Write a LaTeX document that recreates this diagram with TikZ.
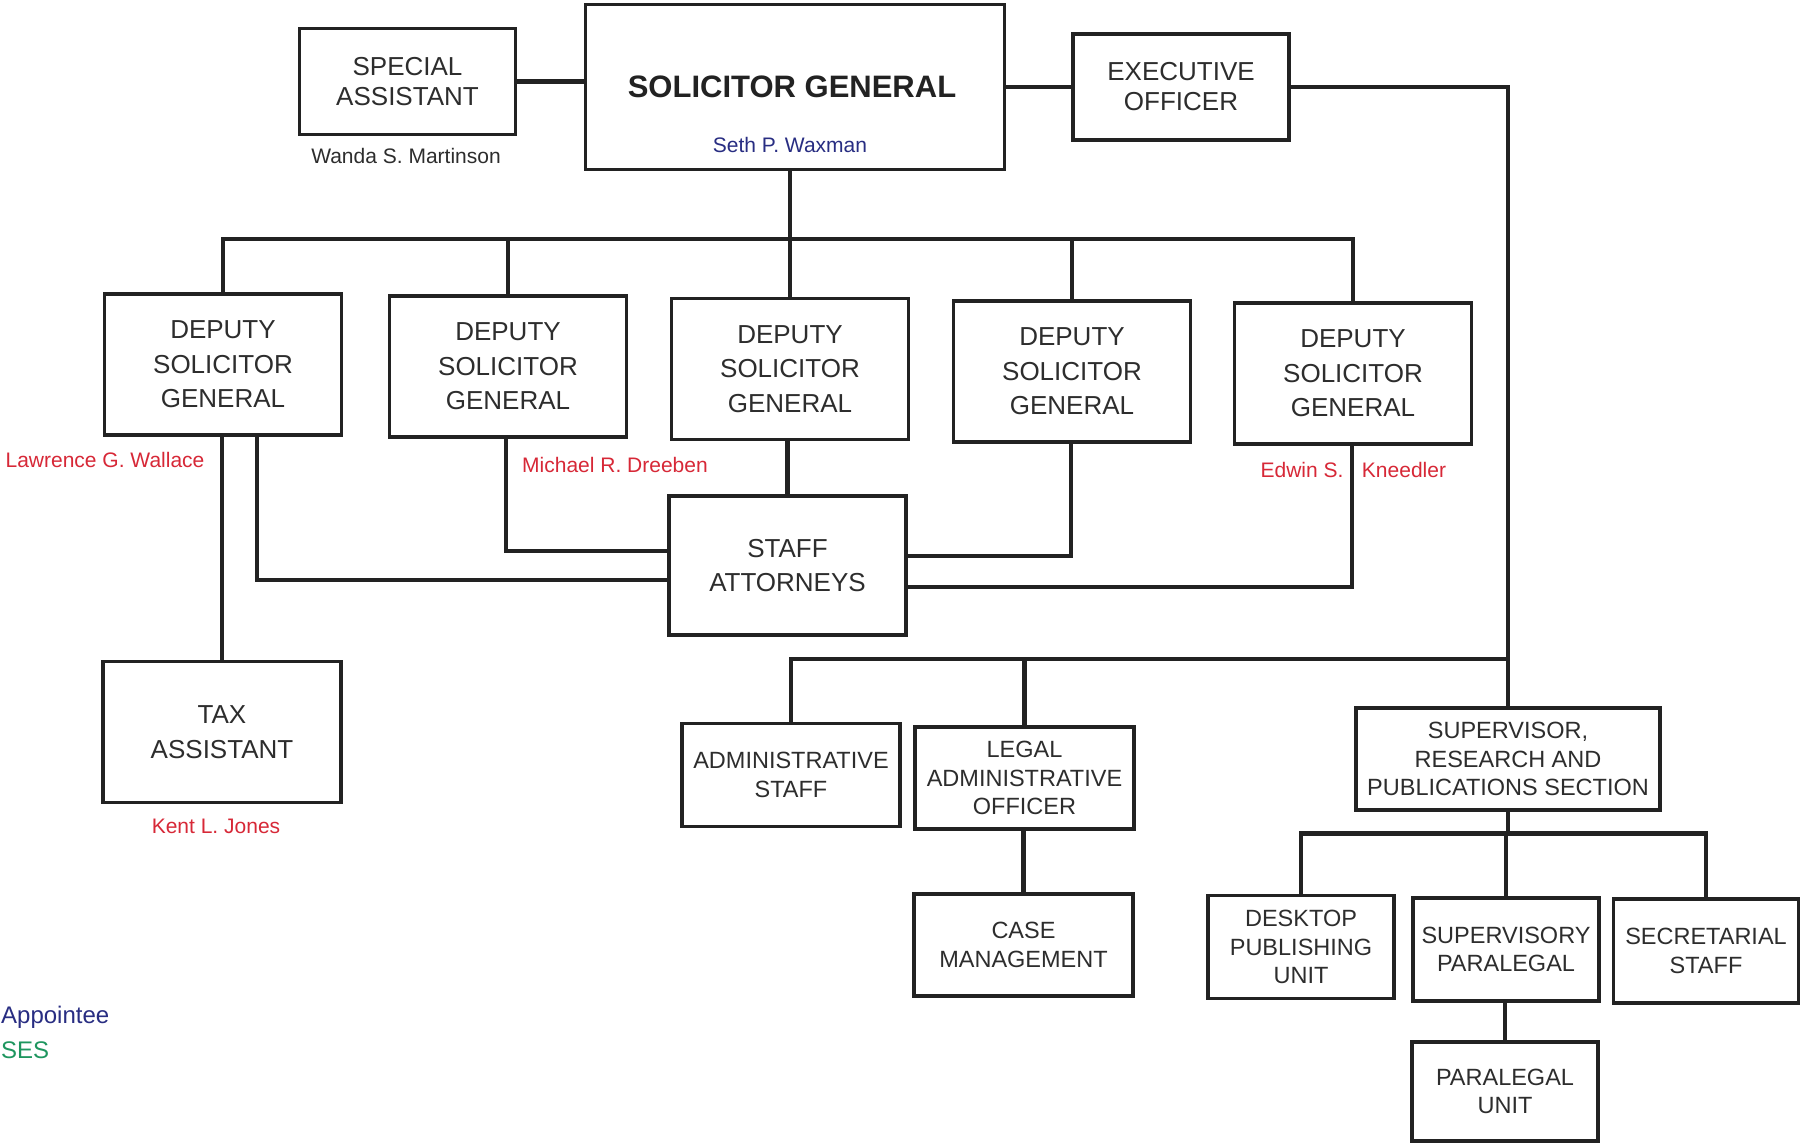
\documentclass[tikz,border=0pt]{standalone}
\usepackage{fontspec}
\setmainfont{Liberation Sans}
\definecolor{ink}{RGB}{34,34,34}
\definecolor{txt}{RGB}{45,45,45}
\definecolor{careerred}{RGB}{215,40,55}
\definecolor{appblue}{RGB}{40,45,130}
\definecolor{sesgreen}{RGB}{30,150,95}
\begin{document}
\begin{tikzpicture}[x=1pt,y=-1pt]
\tikzset{
  unit/.style={draw=ink, line width=3.8pt, fill=white, inner sep=0pt, align=center, text=txt},
  lg/.style={unit, font=\fontsize{26}{34.5}\selectfont},
  md/.style={unit, font=\fontsize{26}{30}\selectfont},
  sm/.style={unit, font=\fontsize{23.5}{28.5}\selectfont},
  dep/.style={lg, minimum width=237pt, minimum height=141pt},
  link/.style={draw=ink, line width=4.5pt},
  person/.style={inner sep=0pt, font=\fontsize{21}{24}\selectfont},
  legend/.style={inner sep=0pt, anchor=west, font=\fontsize{24}{28}\selectfont},
}
\clip (0,0) rectangle (1800,1144);
\fill[white] (0,0) rectangle (1800,1144);

% top row
\node[md, minimum width=216pt, minimum height=106pt] (spa) at (407.5,81.5) {SPECIAL\\ASSISTANT};
\node[unit, minimum width=419pt, minimum height=165pt] (sg) at (795,87) {};
\node[inner sep=0pt, text=ink, font=\bfseries\fontsize{31}{36}\selectfont] (sgt) at (792,87) {SOLICITOR GENERAL};
\node[person, text=appblue] (sgn) at (790,145) {Seth P. Waxman};
\node[md, minimum width=216pt, minimum height=106pt] (eo) at (1181,87) {EXECUTIVE\\OFFICER};
\node[person, text=txt] (span) at (406,156) {Wanda S. Martinson};

% deputies
\node[dep] (d1) at (223,364.5) {DEPUTY\\SOLICITOR\\GENERAL};
\node[dep] (d2) at (508,366.5) {DEPUTY\\SOLICITOR\\GENERAL};
\node[dep] (d3) at (790,369) {DEPUTY\\SOLICITOR\\GENERAL};
\node[dep] (d4) at (1072,371.5) {DEPUTY\\SOLICITOR\\GENERAL};
\node[dep] (d5) at (1353,373.5) {DEPUTY\\SOLICITOR\\GENERAL};

\node[person, text=careerred] (n1) at (105,460) {Lawrence G. Wallace};
\node[person, text=careerred] (n2) at (615,465) {Michael R. Dreeben};
\node[person, text=careerred] (n5a) at (1302,470) {Edwin S.};
\node[person, text=careerred] (n5b) at (1404,470) {Kneedler};

\node[lg, minimum width=237pt, minimum height=139pt] (att) at (787.5,565.5) {STAFF\\ATTORNEYS};
\node[lg, minimum width=238pt, minimum height=141pt] (tax) at (222,732) {TAX\\ASSISTANT};
\node[person, text=careerred] (n6) at (216,826) {Kent L. Jones};

% administrative side
\node[sm, minimum width=218pt, minimum height=103pt] (adm) at (791,775) {ADMINISTRATIVE\\STAFF};
\node[sm, minimum width=219pt, minimum height=102pt] (lao) at (1024.5,778) {LEGAL\\ADMINISTRATIVE\\OFFICER};
\node[sm, minimum width=219pt, minimum height=102pt] (cm) at (1023.5,945) {CASE\\MANAGEMENT};
\node[sm, minimum width=304pt, minimum height=102pt] (sup) at (1508,759) {SUPERVISOR,\\RESEARCH AND\\PUBLICATIONS SECTION};
\node[sm, minimum width=186pt, minimum height=103pt] (dpu) at (1301,947) {DESKTOP\\PUBLISHING\\UNIT};
\node[sm, minimum width=186pt, minimum height=103pt] (spl) at (1506,949.5) {SUPERVISORY\\PARALEGAL};
\node[sm, minimum width=185pt, minimum height=104pt] (sec) at (1706,951) {SECRETARIAL\\STAFF};
\node[sm, minimum width=186pt, minimum height=99pt] (plu) at (1505,1091.5) {PARALEGAL\\UNIT};

% legend
\node[legend, text=appblue] (lga) at (1,1017) {Appointee};
\node[legend, text=sesgreen] (lgs) at (1,1050) {SES};

% bus levels and joints
\coordinate (tbus) at (0,239);
\coordinate (abus) at (0,659);
\coordinate (sbus) at (0,833.5);
\coordinate (j1) at (257,580);
\coordinate (j2) at (506,551);
\coordinate (j4) at (1071,556);
\coordinate (j5) at (1352,587);

% connectors
\draw[link] (spa.east) -- (spa.east -| sg.west);
\draw[link] (eo.west -| sg.east) -- (eo.west);
\draw[link] (eo.east) -| (sup.north);
\draw[link] (d3.north |- sg.south) -- (d3.north);
\draw[link] (d1.north) -- (d1.north |- tbus) -- (d5.north |- tbus) -- (d5.north);
\draw[link] (d2.north |- tbus) -- (d2.north);
\draw[link] (d4.north |- tbus) -- (d4.north);

\draw[link] (tax.north |- d1.south) -- (tax.north);
\draw[link] (j1 |- d1.south) -- (j1) -- (j1 -| att.west);
\draw[link] (j2 |- d2.south) -- (j2) -- (j2 -| att.west);
\draw[link] (att.north |- d3.south) -- (att.north);
\draw[link] (j4 |- d4.south) -- (j4) -- (j4 -| att.east);
\draw[link] (j5 |- d5.south) -- (j5) -- (j5 -| att.east);

\draw[link] (adm.north) -- (adm.north |- abus) -- (sup.north |- abus);
\draw[link] (lao.north |- abus) -- (lao.north);
\draw[link] (cm.north |- lao.south) -- (cm.north);

\draw[link] (sup.south) -- (sup.south |- sbus);
\draw[link] (dpu.north) -- (dpu.north |- sbus) -- (sec.north |- sbus) -- (sec.north);
\draw[link] (spl.north |- sbus) -- (spl.north);
\draw[link] (plu.north |- spl.south) -- (plu.north);
\end{tikzpicture}
\end{document}
